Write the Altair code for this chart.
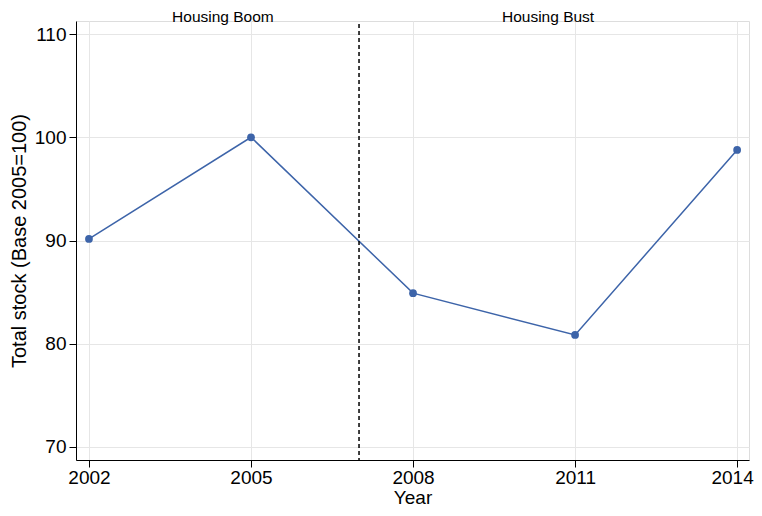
import altair as alt
import pandas as pd

years = [2002, 2005, 2008, 2011, 2014]
stock = [90.15, 100.0, 84.9, 80.85, 98.77]
periods = ["Housing Boom", "Housing Bust"]
period_x = [2004.48, 2010.5]
cut_year = [2007]

df = pd.DataFrame({"Year": years, "Stock": stock})
dfa = pd.DataFrame({"label": periods, "x": period_x})
dfc = pd.DataFrame({"x": cut_year})

FONT = "Liberation Sans"
COLOR = "#3d64a9"

xscale = alt.Scale(domain=[2001.76, 2014.22], nice=False, zero=False)
yscale = alt.Scale(domain=[68.74, 111.26], nice=False, zero=False)

xaxis = alt.Axis(values=years, format="d", title="Year", labelFontSize=19, titleFontSize=19,
                 titleFontWeight="normal", tickSize=7, labelPadding=1, titlePadding=1,
                 domainColor="black", tickColor="black", labelColor="black", titleColor="black",
                 gridColor="#e6e6e6", labelFont=FONT, titleFont=FONT, labelFlush=False,
                 labelOffset=alt.condition("datum.value == 2014", alt.value(-5), alt.value(0)))
yaxis = alt.Axis(values=[70, 80, 90, 100, 110], title="Total stock (Base 2005=100)",
                 labelFontSize=19, titleFontSize=20, titleFontWeight="normal", tickSize=7,
                 labelPadding=3, titlePadding=5,
                 domainColor="black", tickColor="black", labelColor="black", titleColor="black",
                 gridColor="#e6e6e6", labelFont=FONT, titleFont=FONT)

line = alt.Chart(df).mark_line(color=COLOR, strokeWidth=1.5).encode(
    x=alt.X("Year:Q", scale=xscale, axis=xaxis),
    y=alt.Y("Stock:Q", scale=yscale, axis=yaxis),
)
pts = alt.Chart(df).mark_circle(color=COLOR, size=60, opacity=1).encode(
    x=alt.X("Year:Q", scale=xscale),
    y=alt.Y("Stock:Q", scale=yscale),
)
rule = alt.Chart(dfc).mark_rule(color="black", strokeDash=[4, 3], strokeWidth=1.5).encode(
    x=alt.X("x:Q", scale=xscale),
    y=alt.value(3),
    y2=alt.value(439),
)
ann = alt.Chart(dfa).mark_text(font=FONT, fontSize=15.5, color="black", baseline="alphabetic").encode(
    x=alt.X("x:Q", scale=xscale),
    y=alt.value(1),
    text="label:N",
)

chart = alt.layer(line, pts, rule, ann).properties(
    width=673, height=439,
    autosize=alt.AutoSizeParams(type="none"),
    padding={"left": 68, "top": 13, "right": 5, "bottom": 48},
).configure_view(stroke=None).configure(background="white")

chart.save("out.html", embed_options={"renderer": "svg", "actions": False})
